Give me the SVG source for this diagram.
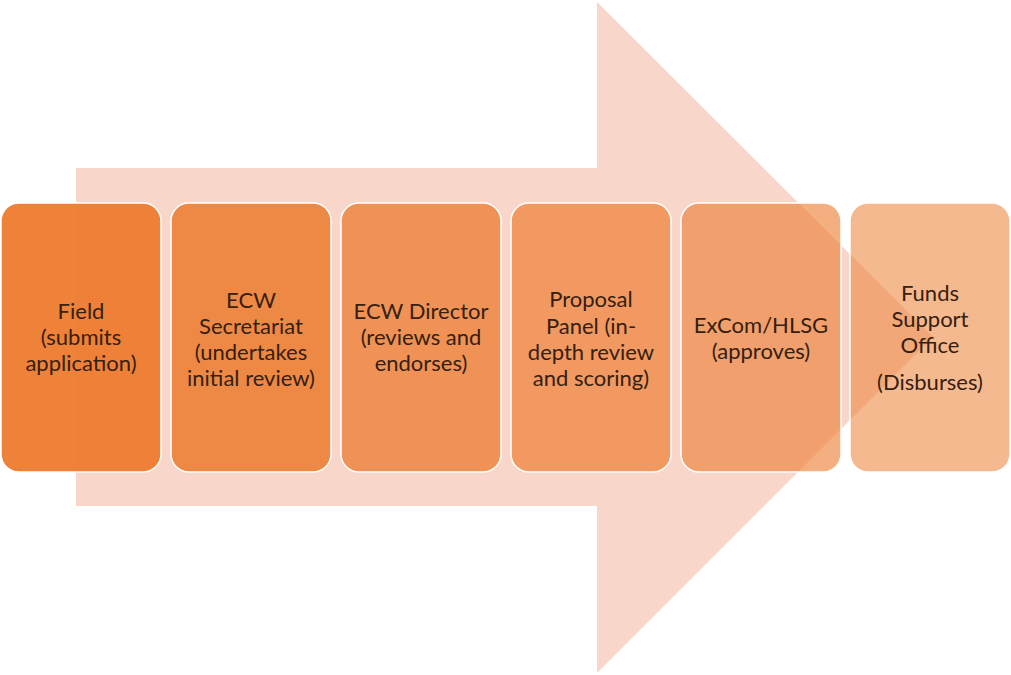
<svg xmlns="http://www.w3.org/2000/svg" width="1011" height="675" viewBox="0 0 1011 675">
<style>
.box{stroke:#ffffff;stroke-width:1.5}
.t{font-family:Lato,"Open Sans","Liberation Sans",sans-serif;font-size:22px;fill:#35200f;text-anchor:middle}
</style>
<rect width="1011" height="675" fill="#ffffff"/>
<g id="arrow">
<polygon points="76,168 597,168 597,2 933,337 597,673 597,506 76,506" fill="#f8d7ca"/>
</g>
<g id="n1"><rect class="box" x="1" y="203" width="160" height="269" rx="18" fill="#ED7D31" fill-opacity="0.96"/>
<text class="t"><tspan x="81" y="319">Field</tspan><tspan x="81" y="345">(submits</tspan><tspan x="81" y="371">application)</tspan></text></g>
<g id="n2"><rect class="box" x="171" y="203" width="160" height="269" rx="18" fill="#ED7D31" fill-opacity="0.87"/>
<text class="t"><tspan x="251" y="308">ECW</tspan><tspan x="251" y="334">Secretariat</tspan><tspan x="251" y="360">(undertakes</tspan><tspan x="251" y="386">initial review)</tspan></text></g>
<g id="n3"><rect class="box" x="341" y="203" width="160" height="269" rx="18" fill="#ED7D31" fill-opacity="0.77"/>
<text class="t"><tspan x="421" y="319">ECW Director</tspan><tspan x="421" y="345">(reviews and</tspan><tspan x="421" y="371">endorses)</tspan></text></g>
<g id="n4"><rect class="box" x="511" y="203" width="160" height="269" rx="18" fill="#ED7D31" fill-opacity="0.69"/>
<text class="t"><tspan x="591" y="307">Proposal</tspan><tspan x="591" y="334">Panel (in-</tspan><tspan x="591" y="360">depth review</tspan><tspan x="591" y="386">and scoring)</tspan></text></g>
<g id="n5"><rect class="box" x="681" y="203" width="160" height="269" rx="18" fill="#ED7D31" fill-opacity="0.61"/>
<text class="t"><tspan x="761" y="333">ExCom/HLSG</tspan><tspan x="761" y="359">(approves)</tspan></text></g>
<g id="n6"><rect class="box" x="850" y="203" width="160" height="269" rx="18" fill="#ED7D31" fill-opacity="0.54"/>
<text class="t"><tspan x="930" y="301">Funds</tspan><tspan x="930" y="327">Support</tspan><tspan x="930" y="353">Office</tspan><tspan x="930" y="390">(Disburses)</tspan></text></g>
<g id="connectors"/>
</svg>
